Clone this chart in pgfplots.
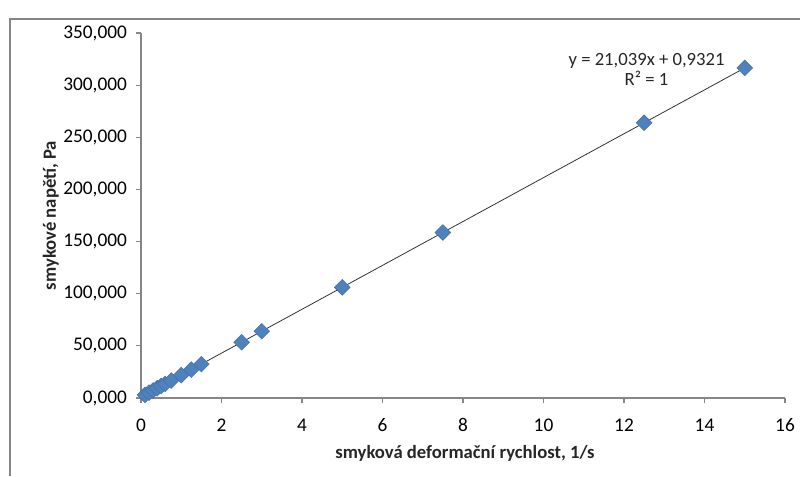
\documentclass[border=0pt]{standalone}
\usepackage{pgfplots}
\pgfplotsset{compat=1.18}
\usepackage{fontspec}
\setmainfont{Carlito}
\definecolor{ptblue}{HTML}{4F81BD}
\definecolor{axgray}{HTML}{868686}
\definecolor{txt}{HTML}{262626}

\begin{document}
\begin{tikzpicture}
\useasboundingbox (0pt,0pt) rectangle (600pt,-357pt);
% outer chart frame (cropped at right and bottom)
\draw[axgray,line width=1.1pt] (7.5pt,-357pt) -- (7.5pt,-14.25pt) -- (600pt,-14.25pt);
\begin{axis}[
  at={(105.75pt,-298.5pt)}, anchor=origin,
  scale only axis, width=483pt, height=273.75pt,
  xmin=0, xmax=16, ymin=0, ymax=350,
  xtick={0,2,...,16}, ytick={0,50,...,350},
  axis x line*=bottom, axis y line*=left,
  axis line style={axgray,line width=0.8pt,-},
  tick style={axgray,line width=0.8pt},
  tick align=outside, major tick length=4pt,
  font=\fontsize{14}{17}\selectfont\color{txt},
  ticklabel style={font=\fontsize{14.5}{17}\selectfont},
  xticklabel style={yshift=-8pt},
  yticklabel style={xshift=-3pt},
  /pgf/number format/assume math mode=true,
  yticklabel={\pgfmathprintnumber[fixed,fixed zerofill,precision=3,use comma,1000 sep={}]{\tick}},
  xticklabel={\pgfmathprintnumber[fixed,precision=0]{\tick}},
  xlabel={\textbf{smyková deformační rychlost, 1/s}},
  ylabel={\textbf{smykové napětí, Pa}},
  xlabel style={at={(axis description cs:0.503,-0.151)},anchor=center},
  ylabel style={at={(axis description cs:-0.14,0.5)},anchor=center},
  clip=false,
]
\addplot[only marks, mark=square*, mark size=4.2pt,
  mark options={rotate=45, fill=ptblue, draw=ptblue!85!black, line width=0.3pt}]
  coordinates {
  (0.1,3.04)(0.2,5.14)(0.3,7.24)(0.4,9.35)(0.5,11.45)(0.6,13.56)
  (0.75,16.71)(1,21.97)(1.25,27.23)(1.5,32.49)(2.5,53.53)(3,64.05)
  (5,106.13)(7.5,158.72)(12.5,263.92)(15,316.52)};
\addplot[black!80, line width=0.6pt] coordinates {(0.1,3.036)(15,316.517)};
\node[font=\fontsize{14}{15}\selectfont, align=center, text=txt]
  at (axis cs:12.56,315) {y = 21,039x + 0,9321\\R² = 1};
\end{axis}
\end{tikzpicture}
\end{document}
